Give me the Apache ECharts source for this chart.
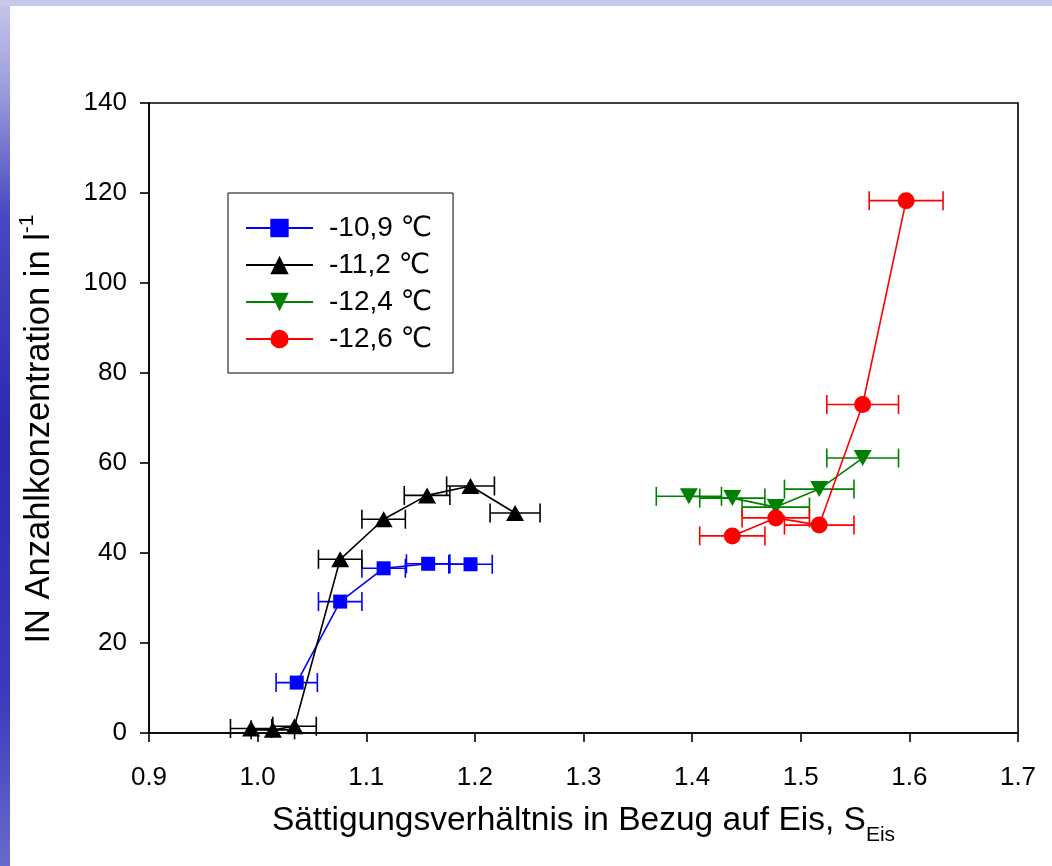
<!DOCTYPE html>
<html>
<head>
<meta charset="utf-8">
<title>IN Anzahlkonzentration</title>
<script src="https://cdn.jsdelivr.net/npm/echarts@6/dist/echarts.min.js"></script>
<style>
  html, body { margin: 0; padding: 0; background: #ffffff; }
  #chart { width: 1052px; height: 866px; }
</style>
</head>
<body>
<div id="chart"></div>
<script>
// Saturation ratio with respect to ice (x), IN number concentration in 1/l (y),
// and the half width of the horizontal error bar on S (xErr).
const seriesNames = ['-10,9 \u2103', '-11,2 \u2103', '-12,4 \u2103', '-12,6 \u2103'];

const sBlue  = [1.036, 1.076, 1.116, 1.157, 1.196];
const nBlue  = [11.2, 29.2, 36.6, 37.6, 37.5];
const eBlue  = [0.019, 0.020, 0.020, 0.020, 0.020];

const sBlack = [0.994, 1.014, 1.034, 1.076, 1.116, 1.156, 1.196, 1.237];
const nBlack = [1.0, 0.7, 1.5, 38.6, 47.5, 52.8, 54.9, 48.9];
const eBlack = [0.019, 0.020, 0.020, 0.020, 0.020, 0.021, 0.022, 0.023];

const sGreen = [1.397, 1.437, 1.477, 1.517, 1.557];
const nGreen = [52.6, 52.2, 50.2, 54.2, 61.1];
const eGreen = [0.030, 0.030, 0.031, 0.032, 0.033];

const sRed   = [1.437, 1.477, 1.517, 1.557, 1.597];
const nRed   = [43.8, 47.8, 46.2, 73.0, 118.3];
const eRed   = [0.030, 0.031, 0.032, 0.033, 0.034];

const xTicks = { min: 0.9, max: 1.7, step: 0.1 };
const yTicks = { min: 0, max: 140, step: 20 };

const FONT = '"Liberation Sans", Arial, "DejaVu Sans", sans-serif';
const downTriangle = 'path://M0,0 L20,0 L10,18 Z';

function pairs(xs, ys) { return xs.map((x, i) => [x, ys[i]]); }
function triples(xs, ys, es) { return xs.map((x, i) => [x, ys[i], es[i]]); }

// Horizontal error bar with end caps, placed through the axis scales.
function errorBar(color) {
  return function (params, api) {
    const x = api.value(0), y = api.value(1), e = api.value(2);
    const a = api.coord([x - e, y]);
    const b = api.coord([x + e, y]);
    const h = 9.5;
    const st = { stroke: color, lineWidth: 1.6 };
    return {
      type: 'group',
      children: [
        { type: 'line', shape: { x1: a[0], y1: a[1], x2: b[0], y2: b[1] }, style: st },
        { type: 'line', shape: { x1: a[0], y1: a[1] - h, x2: a[0], y2: a[1] + h }, style: st },
        { type: 'line', shape: { x1: b[0], y1: b[1] - h, x2: b[0], y2: b[1] + h }, style: st }
      ]
    };
  };
}

function barSeries(xs, ys, es, color, z) {
  return {
    type: 'custom',
    renderItem: errorBar(color),
    data: triples(xs, ys, es),
    encode: { x: 0, y: 1 },
    silent: true,
    z: z
  };
}

function lineSeries(name, xs, ys, color, symbol, size, z) {
  return {
    name: name,
    type: 'line',
    data: pairs(xs, ys),
    symbol: symbol,
    symbolSize: size,
    showSymbol: true,
    lineStyle: { color: color, width: 1.6 },
    itemStyle: { color: color },
    emphasis: { disabled: true },
    animation: false,
    z: z
  };
}

const chart = echarts.init(document.getElementById('chart'), null, { renderer: 'canvas' });

chart.setOption({
  animation: false,
  backgroundColor: '#ffffff',
  graphic: [
    {
      type: 'rect', left: 0, top: 0, z: -10, silent: true,
      shape: { width: 10, height: 866 },
      style: {
        fill: new echarts.graphic.LinearGradient(0, 0, 0, 1, [
          { offset: 0, color: '#c6c6ea' },
          { offset: 0.1, color: '#9e9ede' },
          { offset: 0.25, color: '#4848c0' },
          { offset: 0.5, color: '#2a2ab2' },
          { offset: 0.8, color: '#3a3abb' },
          { offset: 1, color: '#6a6acc' }
        ])
      }
    },
    {
      type: 'rect', left: 0, top: 0, z: -9, silent: true,
      shape: { width: 1052, height: 6 },
      style: { fill: '#c8c8ec' }
    }
  ],
  grid: {
    left: 149, right: 34, top: 103, bottom: 133,
    show: true, borderColor: '#000', borderWidth: 1.6, backgroundColor: 'transparent'
  },
  legend: {
    data: seriesNames,
    orient: 'vertical',
    left: 228, top: 193,
    borderColor: '#000', borderWidth: 1,
    padding: [21, 21, 20, 17],
    itemWidth: 67, itemHeight: 23, itemGap: 9,
    selectedMode: false,
    textStyle: { fontFamily: FONT, fontSize: 28, color: '#000', padding: [0, 0, 0, 11] }
  },
  xAxis: {
    type: 'value',
    min: xTicks.min, max: xTicks.max, interval: xTicks.step,
    name: '{a|S\u00e4ttigungsverh\u00e4ltnis in Bezug auf Eis, S}{b|Eis}',
    nameLocation: 'middle', nameGap: 68,
    nameTextStyle: {
      rich: {
        a: { fontFamily: FONT, fontSize: 33.5, color: '#000', lineHeight: 40 },
        b: { fontFamily: FONT, fontSize: 21, color: '#000', verticalAlign: 'bottom', lineHeight: 40, padding: [0, 0, -5, 0] }
      }
    },
    axisLine: { show: true, onZero: false, lineStyle: { color: '#000', width: 1.6 } },
    axisTick: { show: true, inside: false, length: 9, lineStyle: { color: '#000', width: 1.6 } },
    axisLabel: {
      fontFamily: FONT, fontSize: 26, color: '#000', margin: 32,
      formatter: v => v.toFixed(1)
    },
    splitLine: { show: false }
  },
  yAxis: {
    type: 'value',
    min: yTicks.min, max: yTicks.max, interval: yTicks.step,
    name: '{a|IN Anzahlkonzentration in l}{b|-1}',
    nameLocation: 'middle', nameGap: 90, nameRotate: 90,
    nameTextStyle: {
      padding: [0, 22, 0, 0],
      rich: {
        a: { fontFamily: FONT, fontSize: 34.5, color: '#000', lineHeight: 40 },
        b: { fontFamily: FONT, fontSize: 21, color: '#000', verticalAlign: 'top', lineHeight: 40, padding: [-2, 0, 0, 0] }
      }
    },
    axisLine: { show: true, onZero: false, lineStyle: { color: '#000', width: 1.6 } },
    axisTick: { show: true, inside: false, length: 9, lineStyle: { color: '#000', width: 1.6 } },
    axisLabel: { fontFamily: FONT, fontSize: 26, color: '#000', margin: 22 },
    splitLine: { show: false }
  },
  series: [
    barSeries(sBlue, nBlue, eBlue, '#0000ff', 2),
    lineSeries(seriesNames[0], sBlue, nBlue, '#0000ff', 'rect', 14, 3),
    barSeries(sBlack, nBlack, eBlack, '#000000', 4),
    lineSeries(seriesNames[1], sBlack, nBlack, '#000000', 'triangle', [18, 16], 5),
    barSeries(sGreen, nGreen, eGreen, '#008000', 6),
    lineSeries(seriesNames[2], sGreen, nGreen, '#008000', downTriangle, [18, 16], 7),
    barSeries(sRed, nRed, eRed, '#ff0000', 8),
    lineSeries(seriesNames[3], sRed, nRed, '#ff0000', 'circle', 17, 9)
  ]
});
</script>
</body>
</html>
